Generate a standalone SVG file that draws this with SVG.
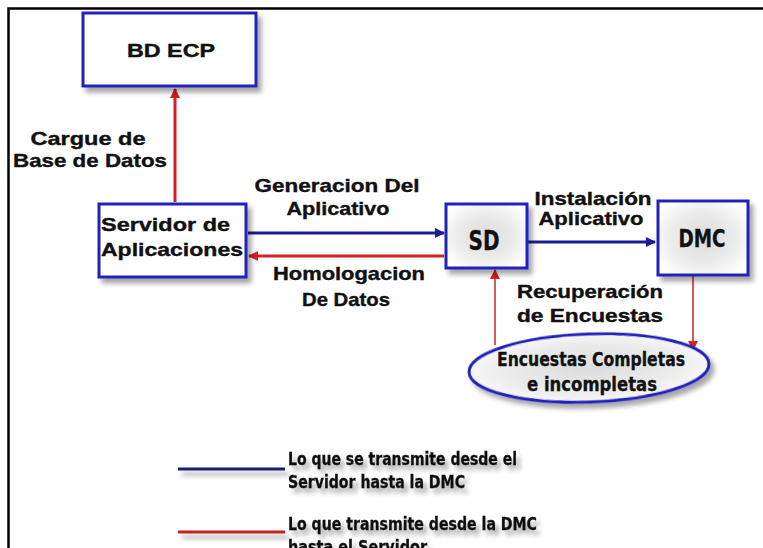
<svg xmlns="http://www.w3.org/2000/svg" width="763" height="548" viewBox="0 0 763 548">
<style>
.box{fill:#ffffff;stroke:#2222bb;stroke-width:3}
.gbox{fill:url(#rg);stroke:#2222bb;stroke-width:3}
.lbl{font-family:"Liberation Sans",Arial,sans-serif;font-weight:bold;font-size:19px;fill:#111;stroke:#111;stroke-width:0.4}
.cnd{font-family:"DejaVu Sans Condensed","DejaVu Sans",sans-serif;font-weight:bold;fill:#111;stroke:#111;stroke-width:0.3}
.blue{stroke:#1c1c96;stroke-width:3;fill:none}
.red{stroke:#d42020;stroke-width:3;fill:none}
.redt{stroke:#d42020;stroke-width:1.5;fill:none}
</style>
<defs>
<radialGradient id="rg" cx="50%" cy="50%" r="60%">
<stop offset="0" stop-color="#dcdcdc"/>
<stop offset="0.6" stop-color="#ececec"/>
<stop offset="1" stop-color="#ffffff"/>
</radialGradient>
<filter id="sh" x="-10%" y="-30%" width="130%" height="180%">
<feGaussianBlur in="SourceAlpha" stdDeviation="2.5"/>
<feOffset dx="4" dy="5" result="b"/>
<feComponentTransfer in="b" result="c"><feFuncA type="linear" slope="0.35"/></feComponentTransfer>
<feMerge><feMergeNode in="c"/><feMergeNode in="SourceGraphic"/></feMerge>
</filter>
<marker id="ab" markerWidth="10" markerHeight="10" refX="9" refY="5" orient="auto" markerUnits="userSpaceOnUse">
<path d="M0,0 L10,5 L0,10 z" fill="#1c1c96"/>
</marker>
<marker id="ar" markerWidth="10" markerHeight="10" refX="9" refY="5" orient="auto" markerUnits="userSpaceOnUse">
<path d="M0,0 L10,5 L0,10 z" fill="#d42020"/>
</marker>
</defs>
<rect width="763" height="548" fill="#ffffff"/>
<path d="M8.5,548 V8.5 H763" fill="none" stroke="#000" stroke-width="2.5"/>

<g id="connectors">
<line class="red" x1="175" y1="202" x2="175" y2="89" stroke-width="3.5" marker-end="url(#ar)"/>
<line class="blue" x1="248" y1="233" x2="444" y2="233" marker-end="url(#ab)"/>
<line class="red" x1="444" y1="256" x2="249" y2="256" marker-end="url(#ar)"/>
<line class="blue" x1="528" y1="242" x2="655" y2="242" marker-end="url(#ab)"/>
<line class="redt" x1="495" y1="345" x2="495" y2="270" marker-end="url(#ar)"/>
<line class="redt" x1="693" y1="276" x2="693" y2="350" marker-end="url(#ar)"/>
</g>

<g id="bd-ecp">
<rect class="box" x="83" y="13" width="173" height="73" filter="url(#sh)"/>
<text class="lbl" x="171" y="57" font-size="17" text-anchor="middle" textLength="88" lengthAdjust="spacingAndGlyphs">BD  ECP</text>
</g>

<g id="servidor">
<rect class="box" x="99" y="204" width="147" height="73" filter="url(#sh)"/>
<text class="lbl" x="101" y="231" font-size="21" textLength="129" lengthAdjust="spacingAndGlyphs">Servidor de</text>
<text class="lbl" x="101" y="256" font-size="21" textLength="142" lengthAdjust="spacingAndGlyphs">Aplicaciones</text>
</g>

<g id="sd">
<rect class="gbox" x="446" y="204" width="81" height="64" filter="url(#sh)"/>
<text class="cnd" x="484" y="250" font-size="26" text-anchor="middle" textLength="31" lengthAdjust="spacingAndGlyphs">SD</text>
</g>

<g id="dmc">
<rect class="gbox" x="658" y="201" width="90" height="74" filter="url(#sh)"/>
<text class="cnd" x="702" y="247" font-size="25" text-anchor="middle" textLength="47" lengthAdjust="spacingAndGlyphs">DMC</text>
</g>

<g id="encuestas">
<ellipse cx="589" cy="368" rx="120" ry="34" fill="url(#rg)" stroke="#2222bb" stroke-width="3" filter="url(#sh)" transform="rotate(-2 589 368)"/>
<text class="cnd" x="591" y="366" font-size="19" text-anchor="middle" textLength="188" lengthAdjust="spacingAndGlyphs">Encuestas Completas</text>
<text class="cnd" x="592" y="391" font-size="19" text-anchor="middle" textLength="130" lengthAdjust="spacingAndGlyphs">e incompletas</text>
</g>

<g id="labels">
<text class="lbl" x="88" y="145" text-anchor="middle" textLength="115" lengthAdjust="spacingAndGlyphs">Cargue de</text>
<text class="lbl" x="90" y="167" text-anchor="middle" textLength="154" lengthAdjust="spacingAndGlyphs">Base de Datos</text>
<text class="lbl" x="337" y="192" text-anchor="middle" textLength="165" lengthAdjust="spacingAndGlyphs">Generacion Del</text>
<text class="lbl" x="338" y="215" text-anchor="middle" textLength="103" lengthAdjust="spacingAndGlyphs">Aplicativo</text>
<text class="lbl" x="349" y="280" text-anchor="middle" textLength="152" lengthAdjust="spacingAndGlyphs">Homologacion</text>
<text class="lbl" x="346" y="306" text-anchor="middle" textLength="88" lengthAdjust="spacingAndGlyphs">De Datos</text>
<text class="lbl" x="593" y="205" font-size="18" text-anchor="middle" textLength="117" lengthAdjust="spacingAndGlyphs">Instalación</text>
<text class="lbl" x="591" y="225" font-size="18" text-anchor="middle" textLength="105" lengthAdjust="spacingAndGlyphs">Aplicativo</text>
<text class="lbl" x="590" y="298" text-anchor="middle" textLength="146" lengthAdjust="spacingAndGlyphs">Recuperación</text>
<text class="lbl" x="590" y="322" text-anchor="middle" textLength="146" lengthAdjust="spacingAndGlyphs">de Encuestas</text>
</g>

<g id="legend" filter="url(#sh)">
<line x1="178" y1="469" x2="285" y2="469" stroke="#1c1c70" stroke-width="3"/>
<line x1="178" y1="532" x2="285" y2="532" stroke="#c42020" stroke-width="3"/>
<text class="cnd" x="288" y="465" font-size="18" textLength="229" lengthAdjust="spacingAndGlyphs">Lo que se transmite desde el</text>
<text class="cnd" x="288" y="488" font-size="18" textLength="177" lengthAdjust="spacingAndGlyphs">Servidor hasta la DMC</text>
<text class="cnd" x="288" y="530" font-size="18" textLength="249" lengthAdjust="spacingAndGlyphs">Lo que transmite desde la DMC</text>
<text class="cnd" x="288" y="553" font-size="18" textLength="139" lengthAdjust="spacingAndGlyphs">hasta el Servidor</text>
</g>
</svg>
